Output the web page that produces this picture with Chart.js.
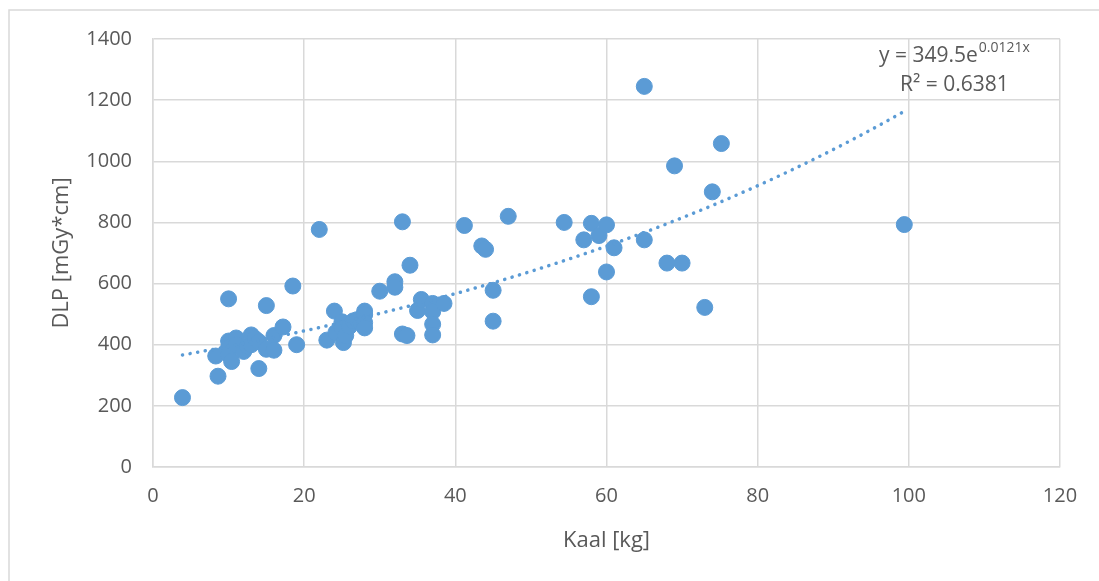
<!DOCTYPE html>
<html>
<head>
<meta charset="utf-8">
<script src="https://cdn.jsdelivr.net/npm/chart.js@4.4.1/dist/chart.umd.min.js"></script>
<style>
    html, body { margin: 0; padding: 0; background: #ffffff; }
    #wrap { width: 1099px; height: 581px; position: relative; }
</style>
</head>
<body>
<div id="wrap"><canvas id="dlpChart" width="1099" height="581"></canvas></div>
<script>

// Kaal [kg]
const kaal = [
    3.9, 8.3, 8.6, 10, 10, 10, 10, 10.4, 11, 11, 12, 12.5, 13, 13, 13.5, 14, 14, 15, 15,
    16, 16, 17.2, 18.5, 19,
    22, 23, 24, 24.2, 25, 25, 25.2, 25.5, 26, 26.5, 27, 27.5, 28, 28, 28, 28,
    30, 32, 32, 33, 33, 33.6, 34, 35, 35.5, 37, 37, 37, 37, 38.5,
    41.2, 43.5, 44, 45, 45, 47,
    54.4, 57, 58, 58, 59, 60, 60, 61, 65, 65, 68, 69, 70, 73, 74, 75.2, 99.4
];

// DLP [mGy*cm]
const dlp = [
    227, 363, 297, 550, 412, 390, 368, 345, 422, 400, 378, 395, 432, 400, 420, 410, 322, 528, 385,
    430, 382, 458, 592, 400,
    777, 415, 510, 440, 475, 455, 407, 430, 460, 478, 482, 470, 510, 498, 472, 455,
    575, 606, 588, 802, 435, 430, 660, 512, 548, 535, 508, 467, 432, 535,
    790, 723, 712, 578, 477, 820,
    800, 743, 797, 557, 757, 792, 638, 717, 1245, 743, 667, 985, 667, 522, 900, 1058, 793
];

const xTicks = [0, 20, 40, 60, 80, 100, 120];
const yTicks = [0, 200, 400, 600, 800, 1000, 1200, 1400];

// trendline y = a * e^(b x), as printed on the chart
const trendA = 349.5;
const trendB = 0.0121;
const trendLabel = "y = 349.5e";
const trendExp = "0.0121x";
const r2Label = "R\u00b2 = 0.6381";

const points = kaal.map((x, i) => ({ x: x, y: dlp[i] }));

const xMin = Math.min(...kaal);
const xMax = Math.max(...kaal);
const trend = [];
for (let x = xMin; x < xMax; x += 1) {
    trend.push({ x: x, y: trendA * Math.exp(trendB * x) });
}
trend.push({ x: xMax, y: trendA * Math.exp(trendB * xMax) });

const textGrey = "#595959";
const gridGrey = "#d9d9d9";
const blue = "#5b9bd5";
const fontName = "'Open Sans', 'Noto Sans', sans-serif";

const frame = {
    id: "frame",
    beforeDraw(chart) {
        const c = chart.ctx;
        c.save();
        c.strokeStyle = "#d9d9d9";
        c.lineWidth = 1.5;
        c.beginPath();
        c.moveTo(9, 600);
        c.lineTo(9, 10);
        c.lineTo(1200, 10);
        c.stroke();
        c.restore();
    }
};

const eqLabel = {
    id: "eqLabel",
    afterDraw(chart) {
        const c = chart.ctx;
        const area = chart.chartArea;
        c.save();
        c.fillStyle = textGrey;
        c.textBaseline = "alphabetic";
        c.textAlign = "left";

        c.font = "21px " + fontName;
        const x0 = area.right - 181;
        c.fillText(trendLabel, x0, area.top + 23);
        const w = c.measureText(trendLabel).width;

        c.font = "14px " + fontName;
        c.fillText(trendExp, x0 + w + 1, area.top + 13);

        c.font = "21px " + fontName;
        c.fillText(r2Label, area.right - 160, area.top + 52);
        c.restore();
    }
};

new Chart(
    document.getElementById("dlpChart"),
    {
        type: "scatter",
        data: {
            datasets: [
                {
                    label: "DLP",
                    data: points,
                    backgroundColor: blue,
                    borderColor: blue,
                    pointRadius: 8,
                    pointHoverRadius: 8,
                    order: 2
                },
                {
                    type: "line",
                    label: "trend",
                    data: trend,
                    borderColor: blue,
                    borderWidth: 3.5,
                    borderDash: [0.1, 7.6],
                    borderCapStyle: "round",
                    pointRadius: 0,
                    fill: false,
                    tension: 0.3,
                    order: 1
                }
            ]
        },
        options: {
            responsive: false,
            animation: false,
            events: [],
            layout: {
                padding: { left: 38, right: 39, top: 39, bottom: 0 }
            },
            plugins: {
                legend: { display: false },
                tooltip: { enabled: false }
            },
            scales: {
                x: {
                    type: "linear",
                    min: 0,
                    max: 120,
                    afterBuildTicks(scale) {
                        scale.ticks = xTicks.map(v => ({ value: v }));
                    },
                    afterFit(scale) {
                        scale.height = 114;
                    },
                    grid: {
                        color: gridGrey,
                        lineWidth: 1.5,
                        drawTicks: false
                    },
                    border: { color: gridGrey, width: 1.5 },
                    ticks: {
                        color: textGrey,
                        padding: 17,
                        font: { family: fontName, size: 20 },
                        callback: v => String(v)
                    },
                    title: {
                        display: true,
                        text: "Kaal [kg]",
                        color: textGrey,
                        font: { family: fontName, size: 22 },
                        padding: { top: 0, bottom: 27 }
                    }
                },
                y: {
                    type: "linear",
                    min: 0,
                    max: 1400,
                    afterBuildTicks(scale) {
                        scale.ticks = yTicks.map(v => ({ value: v }));
                    },
                    afterFit(scale) {
                        scale.width = 115;
                    },
                    grid: {
                        color: gridGrey,
                        lineWidth: 1.5,
                        drawTicks: false
                    },
                    border: { color: gridGrey, width: 1.5 },
                    ticks: {
                        color: textGrey,
                        padding: 21,
                        font: { family: fontName, size: 20 },
                        callback: v => String(v)
                    },
                    title: {
                        display: true,
                        text: "DLP [mGy*cm]",
                        color: textGrey,
                        font: { family: fontName, size: 22 },
                        padding: { top: 11, bottom: 0 }
                    }
                }
            }
        },
        plugins: [frame, eqLabel]
    }
);
</script>
</body>
</html>
